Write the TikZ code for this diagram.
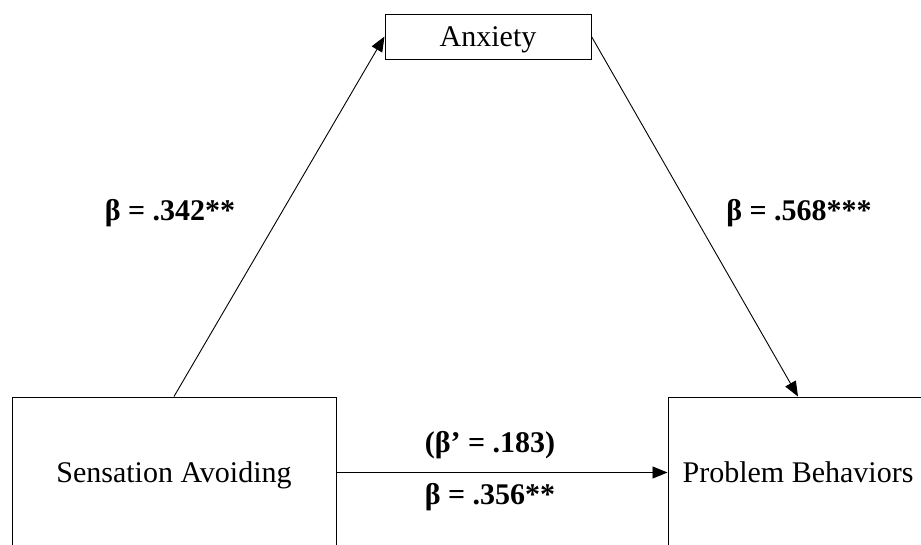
\documentclass[tikz,border=0pt]{standalone}
\usepackage{fontspec}
\setmainfont{Liberation Serif}
\usetikzlibrary{positioning, arrows.meta}
\tikzset{
  var/.style={draw, line width=1pt, font=\fontsize{30}{32}\selectfont, inner sep=0pt, text depth=0pt},
  coef/.style={font=\fontsize{30}{32}\selectfont\bfseries, inner sep=0pt},
}

\begin{document}
\begin{tikzpicture}[x=1pt, y=-1pt, >={Triangle[length=15pt, width=12pt]}]
  \useasboundingbox (0,0) rectangle (921,544);
  \fill[white] (0,0) rectangle (921,544);
  \node[var, minimum width=206pt, minimum height=45pt] (anx) at (488,36.5) {Anxiety};
  \node[var, minimum width=324pt, minimum height=151pt] (sa) at (174,472.5) {Sensation Avoiding};
  \node[var, minimum width=260pt, minimum height=151pt] (pb) at (798,472.5) {Problem Behaviors};
  \draw[->, line width=0.9pt] (sa.north) -- (anx.west);
  \draw[->, line width=0.9pt] (anx.east) -- (pb.north);
  \draw[->, line width=0.9pt] (sa.east) -- (pb.west);
  \node[coef] (a) at (170,213) {β = .342**};
  \node[coef] (b) at (799,213) {β = .568***};
  \node[coef] (cp) at (490,445) {(β’ = .183)};
  \node[coef] (c) at (490,497) {β = .356**};
\end{tikzpicture}
\end{document}
